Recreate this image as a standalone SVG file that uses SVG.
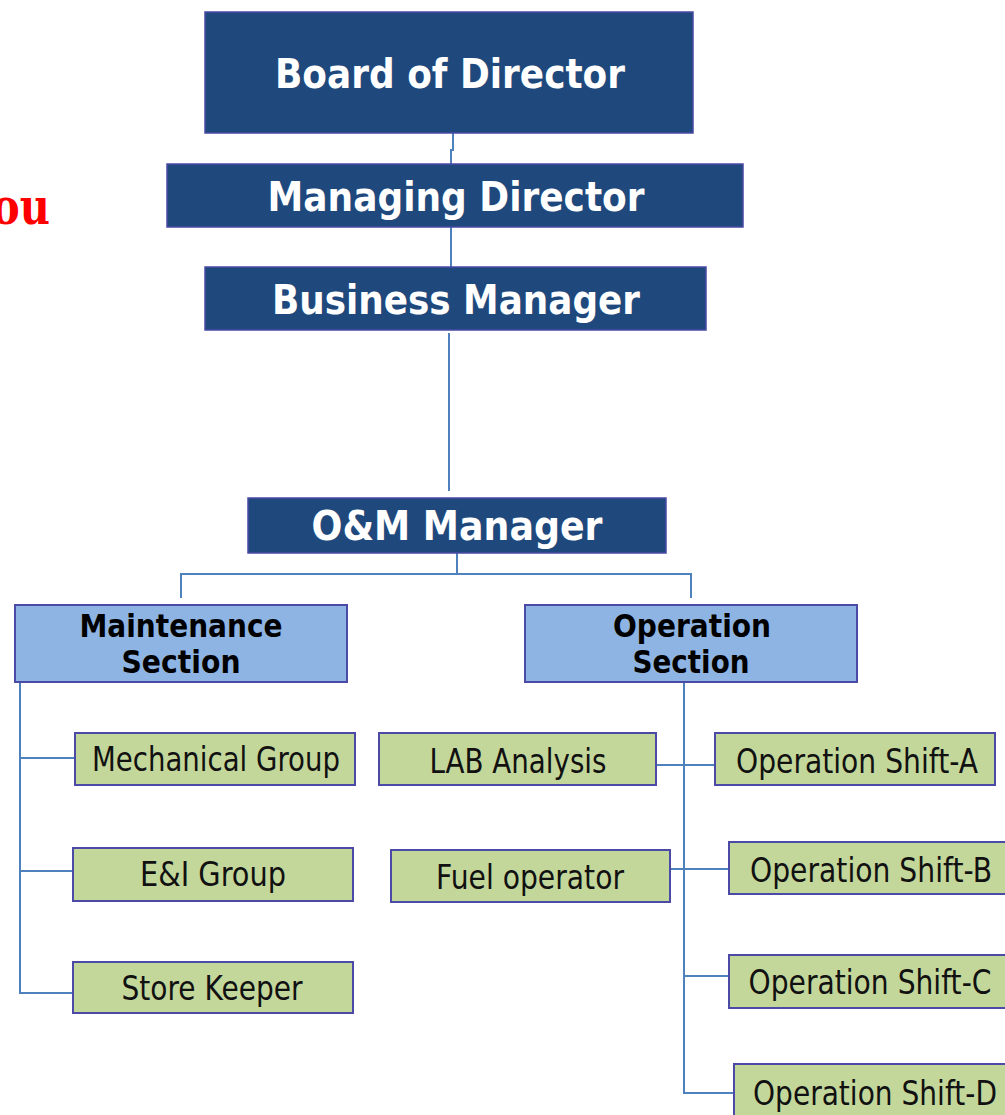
<svg xmlns="http://www.w3.org/2000/svg" width="1005" height="1115" viewBox="0 0 1005 1115">
<style>
.dark{fill:#1f497d;stroke:#4b4aa6;stroke-width:1.5}
.sec{fill:#8eb4e3;stroke:#4b4aa6;stroke-width:2}
.grn{fill:#c4d79b;stroke:#4b4aa6;stroke-width:2}
.tw{font-family:"DejaVu Sans",Verdana,sans-serif;font-weight:bold;fill:#ffffff;text-anchor:middle}
.tb{font-family:"DejaVu Sans",Verdana,sans-serif;font-weight:bold;fill:#000000;text-anchor:middle}
.tn{font-family:"DejaVu Sans",Verdana,sans-serif;fill:#111111;text-anchor:middle}
.ln{fill:none;stroke:#4f81bd;stroke-width:2}
</style>
<rect width="1005" height="1115" fill="#ffffff"/>
<text x="-8" y="224" font-family="DejaVu Serif,serif" font-weight="bold" font-size="50" fill="#ff0000" textLength="58" lengthAdjust="spacingAndGlyphs">ou</text>
<g id="connectors">
<path class="ln" d="M453 133V150H451V164"/>
<path class="ln" d="M451 227V267"/>
<path class="ln" d="M449 333V491"/>
<path class="ln" d="M457 553V574M181 598V574H691V598"/>
<path class="ln" d="M20 682V993H73M20 758H75M20 871H73"/>
<path class="ln" d="M684 682V1093H734M656 765H715M670 869H729M684 976H729"/>
</g>
<g id="board"><rect class="dark" x="205" y="12" width="488" height="121"/><text class="tw" x="450" y="88" font-size="40" textLength="350" lengthAdjust="spacingAndGlyphs">Board of Director</text></g>
<g id="md"><rect class="dark" x="167" y="164" width="576" height="63"/><text class="tw" x="456" y="211" font-size="40" textLength="377" lengthAdjust="spacingAndGlyphs">Managing Director</text></g>
<g id="bm"><rect class="dark" x="205" y="267" width="501" height="63"/><text class="tw" x="456" y="314" font-size="40" textLength="368" lengthAdjust="spacingAndGlyphs">Business Manager</text></g>
<g id="om"><rect class="dark" x="248" y="498" width="418" height="55"/><text class="tw" x="457" y="540" font-size="40" textLength="291" lengthAdjust="spacingAndGlyphs">O&amp;M Manager</text></g>
<g id="maint"><rect class="sec" x="15" y="605" width="332" height="77"/><text class="tb" x="181" y="637" font-size="32" textLength="203" lengthAdjust="spacingAndGlyphs">Maintenance</text><text class="tb" x="181" y="673" font-size="32" textLength="119" lengthAdjust="spacingAndGlyphs">Section</text></g>
<g id="oper"><rect class="sec" x="525" y="605" width="332" height="77"/><text class="tb" x="692" y="637" font-size="32" textLength="158" lengthAdjust="spacingAndGlyphs">Operation</text><text class="tb" x="691" y="673" font-size="32" textLength="117" lengthAdjust="spacingAndGlyphs">Section</text></g>
<g id="mech"><rect class="grn" x="75" y="733" width="280" height="52"/><text class="tn" x="216" y="771" font-size="33" textLength="248" lengthAdjust="spacingAndGlyphs">Mechanical Group</text></g>
<g id="ei"><rect class="grn" x="73" y="848" width="280" height="53"/><text class="tn" x="213" y="886" font-size="33" textLength="146" lengthAdjust="spacingAndGlyphs">E&amp;I Group</text></g>
<g id="store"><rect class="grn" x="73" y="962" width="280" height="51"/><text class="tn" x="212" y="1000" font-size="33" textLength="181" lengthAdjust="spacingAndGlyphs">Store Keeper</text></g>
<g id="lab"><rect class="grn" x="379" y="733" width="277" height="52"/><text class="tn" x="518" y="773" font-size="33" textLength="177" lengthAdjust="spacingAndGlyphs">LAB Analysis</text></g>
<g id="fuel"><rect class="grn" x="391" y="850" width="279" height="52"/><text class="tn" x="530" y="889" font-size="33" textLength="188" lengthAdjust="spacingAndGlyphs">Fuel operator</text></g>
<g id="shiftA"><rect class="grn" x="715" y="733" width="280" height="52"/><text class="tn" x="857" y="773" font-size="33" textLength="242" lengthAdjust="spacingAndGlyphs">Operation Shift-A</text></g>
<g id="shiftB"><rect class="grn" x="729" y="842" width="280" height="52"/><text class="tn" x="871" y="882" font-size="33" textLength="242" lengthAdjust="spacingAndGlyphs">Operation Shift-B</text></g>
<g id="shiftC"><rect class="grn" x="729" y="955" width="280" height="53"/><text class="tn" x="870" y="994" font-size="33" textLength="243" lengthAdjust="spacingAndGlyphs">Operation Shift-C</text></g>
<g id="shiftD"><rect class="grn" x="734" y="1064" width="280" height="56"/><text class="tn" x="875" y="1105" font-size="33" textLength="244" lengthAdjust="spacingAndGlyphs">Operation Shift-D</text></g>
</svg>
